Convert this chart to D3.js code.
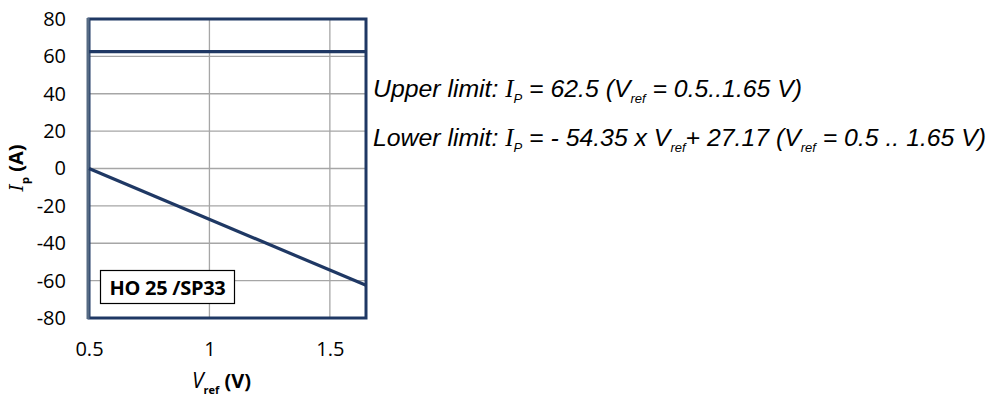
<!DOCTYPE html>
<html><head><meta charset="utf-8">
<script src="https://cdn.jsdelivr.net/npm/d3@7"></script>
<style>body{margin:0;background:#fff}svg{display:block}</style>
</head><body>
<svg id="c" width="990" height="398"></svg>
<script>
const xTicks = [0.5, 1, 1.5];
const yTicks = [-80, -60, -40, -20, 0, 20, 40, 60, 80];
const xDomain = [0.5, 1.65];
const yDomain = [-80, 80];
const upperVref = [0.5, 1.65];
const upperIp = [62.5, 62.5];
const lowerVref = [0.5, 1.65];
const lowerIp = [0.0, -62.5];
const boxLabel = "HO 25 /SP33";

const svg = d3.select("#c");
const L = 89, R = 366, T = 19, B = 318;
const x = d3.scaleLinear().domain(xDomain).range([L, R]);
const y = d3.scaleLinear().domain(yDomain).range([B, T]);
const navy = "#1F3864";
const tickFont = "'Open Sans', sans-serif";

// gridlines
svg.append("g").selectAll("line").data(yTicks).join("line")
  .attr("x1", L).attr("x2", R).attr("y1", d => y(d)).attr("y2", d => y(d))
  .attr("stroke", "#a6a6a6").attr("stroke-width", 1.3);
svg.append("g").selectAll("line").data(xTicks).join("line")
  .attr("y1", T).attr("y2", B).attr("x1", d => x(d)).attr("x2", d => x(d))
  .attr("stroke", "#a6a6a6").attr("stroke-width", 1.3);

// axes (labels only)
const fmt = d => String(d);
const yAxis = svg.append("g").attr("transform", `translate(${L},0)`)
  .call(d3.axisLeft(y).tickValues(yTicks).tickSize(0).tickPadding(23).tickFormat(fmt));
const xAxis = svg.append("g").attr("transform", `translate(0,${B})`)
  .call(d3.axisBottom(x).tickValues(xTicks).tickSize(0).tickPadding(24).tickFormat(fmt));
[yAxis, xAxis].forEach(a => {
  a.select(".domain").remove();
  a.selectAll("text").attr("font-family", tickFont).attr("font-size", 20).attr("fill", "#000");
});

// frame
svg.append("rect").attr("x", L).attr("y", T).attr("width", R - L).attr("height", B - T)
  .attr("fill", "none").attr("stroke", navy).attr("stroke-width", 3);
svg.append("line").attr("x1", L - 1).attr("x2", L - 1).attr("y1", T - 1).attr("y2", B + 1)
  .attr("stroke", "#566b84").attr("stroke-width", 3);

// series
const line = d3.line().x(d => x(d[0])).y(d => y(d[1]));
svg.append("path").datum(d3.zip(upperVref, upperIp)).attr("d", line)
  .attr("fill", "none").attr("stroke", navy).attr("stroke-width", 3.2);
svg.append("path").datum(d3.zip(lowerVref, lowerIp)).attr("d", line)
  .attr("fill", "none").attr("stroke", navy).attr("stroke-width", 3.2);

// annotation box
svg.append("rect").attr("x", 100.5).attr("y", 270.5).attr("width", 134).attr("height", 33)
  .attr("fill", "#fff").attr("stroke", "#000").attr("stroke-width", 1.2);
svg.append("text").attr("x", 167.5).attr("y", 295).attr("text-anchor", "middle")
  .attr("font-family", tickFont).attr("font-weight", "bold").attr("font-size", 20)
  .attr("letter-spacing", -0.3).attr("fill", "#000").text(boxLabel);

// axis titles
const xt = svg.append("text").attr("x", 192).attr("y", 388)
  .attr("font-family", tickFont).attr("font-size", 20).attr("font-weight", "bold").attr("fill", "#000");
xt.append("tspan").attr("font-style", "italic").attr("font-weight", "normal").attr("font-size", 21).text("V");
xt.append("tspan").attr("font-size", 11).attr("dy", 6).text("ref");
xt.append("tspan").attr("dy", -6).text(" (V)");

const yt = svg.append("text").attr("transform", "translate(23,168) rotate(-90)").attr("text-anchor", "middle")
  .attr("font-family", tickFont).attr("font-size", 20).attr("font-weight", "bold").attr("fill", "#000");
yt.append("tspan").attr("font-family", "'DejaVu Serif', serif").attr("font-style", "italic").attr("font-weight", "normal").attr("font-size", 19).text("I");
yt.append("tspan").attr("font-size", 11).attr("dy", 6).text("p");
yt.append("tspan").attr("dy", -6).text(" (A)");

// formula text
const ff = "'Liberation Sans', Arial, sans-serif";
function formula(yb, parts) {
  const t = svg.append("text").attr("x", 373).attr("y", yb).attr("font-family", ff)
    .attr("font-style", "italic").attr("font-size", 24.8).attr("fill", "#000");
  parts.forEach(p => {
    if (p.sub) t.append("tspan").attr("font-size", 13).attr("dy", 6).text(p.sub);
    else {
      const s = t.append("tspan").attr("dy", p.up ? -6 : 0).text(p.t);
      if (p.serif) s.attr("font-family", "'Liberation Serif', serif");
    }
  });
}
formula(97, [{t:"Upper limit: "},{t:"I", serif:true},{sub:"P"},{t:" = 62.5 (V", up:true},{sub:"ref"},{t:" = 0.5..1.65 V)", up:true}]);
formula(146, [{t:"Lower limit: "},{t:"I", serif:true},{sub:"P"},{t:" = - 54.35 x V", up:true},{sub:"ref"},{t:"+ 27.17 (V", up:true},{sub:"ref"},{t:" = 0.5 .. 1.65 V)", up:true}]);
</script>
</body></html>
